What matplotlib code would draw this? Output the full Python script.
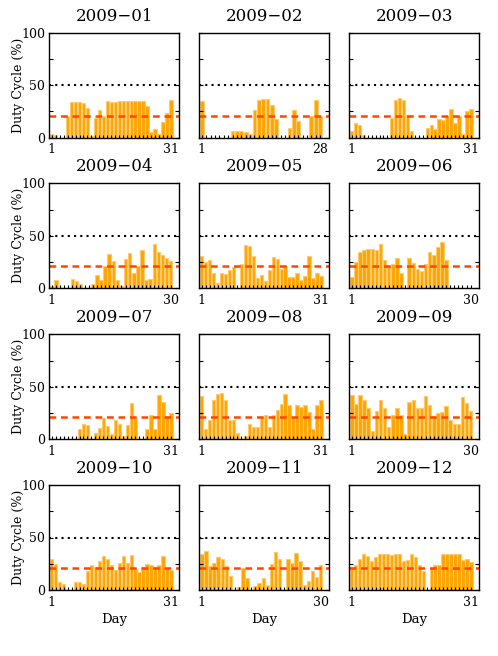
import numpy as np
from matplotlib import pyplot as plt

#Daily duty cycle (%) for each month of 2009
months = ["2009−01", "2009−02", "2009−03", "2009−04", "2009−05", "2009−06",
          "2009−07", "2009−08", "2009−09", "2009−10", "2009−11", "2009−12"]

jan = [4, 3, 0, 0, 21, 34, 34, 34, 33, 28, 2, 19, 26, 21, 35, 34, 34, 35, 35, 35,
       35, 35, 35, 35, 30, 5, 8, 4, 15, 24, 36]
feb = [35, 0, 0, 0, 0, 0, 0, 6, 6, 6, 5, 4, 26, 36, 37, 37, 31, 18, 0, 0,
       9, 26, 16, 0, 0, 21, 36, 21]
mar = [6, 14, 12, 3, 0, 0, 0, 0, 0, 0, 19, 36, 38, 36, 22, 6, 0, 0, 0, 9,
       12, 8, 18, 17, 21, 27, 14, 21, 4, 25, 27]
apr = [2, 8, 0, 0, 0, 9, 7, 4, 0, 0, 4, 13, 8, 21, 33, 26, 8, 2, 28, 34,
       15, 21, 36, 8, 9, 42, 35, 32, 29, 26]
may = [31, 25, 27, 15, 5, 15, 14, 17, 20, 0, 23, 41, 40, 31, 10, 13, 7, 17, 30, 28,
       18, 21, 11, 11, 15, 8, 12, 31, 10, 15, 12]
jun = [11, 25, 35, 36, 37, 37, 36, 42, 27, 20, 23, 29, 15, 0, 29, 24, 18, 16, 23, 35,
       32, 39, 44, 27, 0, 0, 0, 0, 0, 0]
jul = [0, 0, 0, 0, 0, 0, 0, 10, 15, 14, 0, 6, 11, 20, 13, 5, 18, 15, 3, 14,
       35, 20, 0, 0, 10, 23, 10, 42, 36, 22, 25]
aug = [41, 10, 18, 37, 43, 44, 37, 18, 18, 6, 0, 3, 15, 12, 12, 21, 23, 12, 23, 28,
       34, 43, 33, 21, 33, 31, 33, 26, 10, 33, 37]
sep = [42, 34, 42, 37, 30, 8, 27, 37, 30, 12, 23, 30, 23, 5, 36, 37, 30, 30, 41, 33,
       22, 25, 26, 32, 18, 15, 15, 40, 35, 27]
oct_ = [30, 25, 8, 6, 0, 0, 8, 8, 6, 18, 24, 22, 28, 32, 30, 24, 19, 26, 32, 26,
        33, 20, 17, 22, 25, 24, 22, 24, 32, 20, 19]
nov = [34, 37, 23, 26, 31, 30, 23, 13, 0, 3, 21, 11, 0, 4, 7, 11, 5, 25, 36, 30,
       0, 30, 26, 35, 28, 5, 9, 18, 12, 24]
dec = [22, 24, 30, 34, 32, 28, 31, 34, 34, 34, 33, 34, 34, 28, 29, 34, 31, 24, 18, 0,
       21, 24, 24, 34, 34, 34, 34, 34, 29, 30, 27]

series = [jan, feb, mar, apr, may, jun, jul, aug, sep, oct_, nov, dec]

mean_level = 21
limit_level = 50

plt.rcParams['font.family'] = 'DejaVu Serif'

W, H = 498, 656
fig = plt.figure(figsize=(W / 100, H / 100), dpi=100)

col_left = [49.3, 199.3, 349.3]
row_top = [32.7, 183.3, 334.3, 485.0]
aw, ah = 130, 105

for k in range(12):
    r, c = k // 3, k % 3
    ax = fig.add_axes([col_left[c] / W, 1 - (row_top[r] + ah) / H, aw / W, ah / H])
    vals = series[k]
    n = len(vals)
    days = np.arange(1, n + 1)
    ax.bar(days, vals, width=0.85, color='#FFA500', edgecolor='#FFCB70', linewidth=0.8)
    ax.axhline(limit_level, color='black', linestyle=(0, (1, 2.0)), linewidth=1.5)
    ax.axhline(mean_level, color='#FF4500', linestyle=(0, (2.7, 1.9)), linewidth=1.8)
    ax.set_xlim(0.4, n + 2.1)
    ax.set_ylim(0, 100)
    ax.set_xticks([1, n])
    ax.set_xticks(days, minor=True)
    ax.set_yticks([0, 25, 50, 75, 100])
    if c == 0:
        ax.set_yticklabels(['0', '', '50', '', '100'])
        ax.set_ylabel('Duty Cycle (%)', fontsize=9, labelpad=-3)
    else:
        ax.set_yticklabels([])
    if r == 3:
        ax.set_xlabel('Day', fontsize=9.5, labelpad=3)
    ax.tick_params(axis='y', direction='in', length=3, width=0.8, left=True, right=True,
                   labelsize=9, pad=3)
    ax.tick_params(axis='x', which='major', direction='in', length=2.5, width=0.8,
                   labelsize=9, pad=4)
    ax.tick_params(axis='x', which='minor', direction='in', length=2, width=0.8)
    for s in ax.spines.values():
        s.set_linewidth(1.0)
    ax.set_title(months[k], fontsize=12, pad=8.5)

plt.savefig('out.png', dpi=100)
